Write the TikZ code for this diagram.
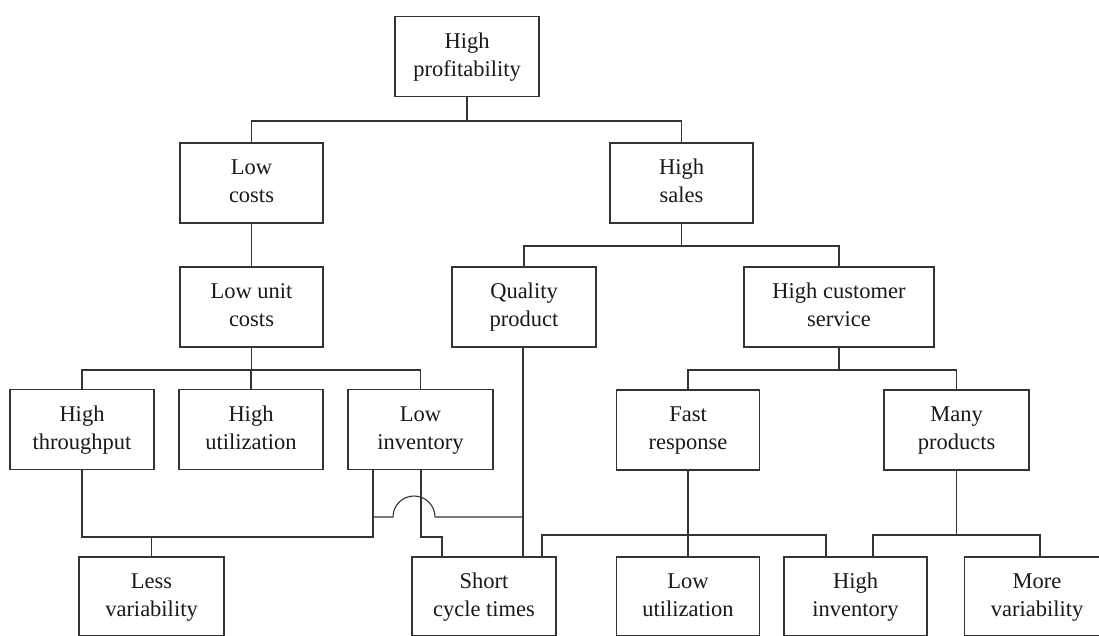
\documentclass[tikz,border=0pt]{standalone}
\usepackage{fontspec}
\setmainfont{Liberation Serif}
\newcommand{\twoln}[2]{\strut #1\\#2\strut}
\begin{document}
\begin{tikzpicture}[x=1pt,y=-1pt,
  box/.style={draw=black!80, line width=1.1pt, rectangle, inner sep=0pt,
    minimum width=144pt, minimum height=80pt, align=center,
    font=\fontsize{22.5}{28}\selectfont, text=black!90},
  conn/.style={draw=black!80, line width=1.1pt}]
\useasboundingbox (0,0) rectangle (1099,635);
\fill[white] (0,0) rectangle (1099,635);
\begin{scope}
\clip (0,0) rectangle (1099,635);
% row 1
\node[box] (hp) at (467,56.5) {\twoln{High}{profitability}};
% row 2
\node[box, minimum width=143pt] (lc) at (251.5,183) {\twoln{Low}{costs}};
\node[box, minimum width=143pt] (hs) at (681.5,183) {\twoln{High}{sales}};
% row 3
\node[box, minimum width=143pt] (luc) at (251.5,307) {\twoln{Low unit}{costs}};
\node[box] (qp) at (524,307) {\twoln{Quality}{product}};
\node[box, minimum width=190pt] (hcs) at (839,307) {\twoln{High customer}{service}};
% row 4
\node[box] (ht) at (82,429.5) {\twoln{High}{throughput}};
\node[box] (hu) at (251,429.5) {\twoln{High}{utilization}};
\node[box, minimum width=145pt] (li) at (420.5,429.5) {\twoln{Low}{inventory}};
\node[box, minimum width=143pt] (fr) at (688,430) {\twoln{Fast}{response}};
\node[box, minimum width=145pt] (mp) at (956.5,430) {\twoln{Many}{products}};
% row 5
\node[box, minimum width=145pt, minimum height=79pt] (lv) at (151.5,596.5) {\twoln{Less}{variability}};
\node[box, minimum height=79pt] (sct) at (484,596.5) {\twoln{Short}{cycle times}};
\node[box, minimum width=143pt, minimum height=79pt] (lu) at (688,596.5) {\twoln{Low}{utilization}};
\node[box, minimum width=143pt, minimum height=79pt] (hi) at (855.5,596.5) {\twoln{High}{inventory}};
\node[box, minimum width=145pt, minimum height=79pt] (mv) at (1037,596.5) {\twoln{More}{variability}};

% bus coordinates
\coordinate (b1) at (0,121);
\coordinate (b2) at (0,246);
\coordinate (b3) at (0,370);
\coordinate (b4) at (0,537);
\coordinate (b5) at (0,535);

% top level
\draw[conn] (hp.south) -- (hp.south |- b1);
\draw[conn] (lc.north) -- (lc.north |- b1) -| (hs.north);
% low costs
\draw[conn] (lc.south) -- (luc.north);
% high sales
\draw[conn] (hs.south) -- (hs.south |- b2);
\draw[conn] (qp.north) -- (qp.north |- b2) -| (hcs.north);
% low unit costs
\draw[conn] (luc.south) -- (luc.south |- b3);
\draw[conn] (ht.north) -- (ht.north |- b3) -| (li.north);
\draw[conn] (hu.north) -- (hu.north |- b3);
% high customer service
\draw[conn] (hcs.south) -- (hcs.south |- b3);
\draw[conn] (fr.north) -- (fr.north |- b3) -| (mp.north);
% high throughput & low inventory -> less variability
\coordinate (lil) at (373,470);
\draw[conn] (ht.south) -- (ht.south |- b4) -| (lil);
\draw[conn] (lv.north) -- (lv.north |- b4);
% low inventory -> short cycle times
\coordinate (lim) at (421,470);
\coordinate (sctl) at (442,557);
\draw[conn] (lim) -- (lim |- b4) -| (sctl);
% quality product -> short cycle times
\coordinate (qpb) at (523,347);
\coordinate (sctq) at (523,557);
\draw[conn] (qpb) -- (sctq);
% jumper line
\coordinate (jr) at (523,517);
\coordinate (ja) at (435,517);
\coordinate (jl) at (373,517);
\draw[conn] (jr) -- (ja) arc[start angle=0, end angle=-180, radius=21] -- (jl);
% fast response -> low utilization, short cycle times, high inventory
\draw[conn] (fr.south) -- (lu.north);
\coordinate (sctr) at (542,557);
\coordinate (hil) at (826,557);
\draw[conn] (sctr) -- (sctr |- b5) -| (hil);
% many products -> high inventory, more variability
\coordinate (hir) at (873,557);
\coordinate (mvt) at (1040,557);
\draw[conn] (mp.south) -- (mp.south |- b5);
\draw[conn] (hir) -- (hir |- b5) -| (mvt);
\end{scope}
\end{tikzpicture}
\end{document}
